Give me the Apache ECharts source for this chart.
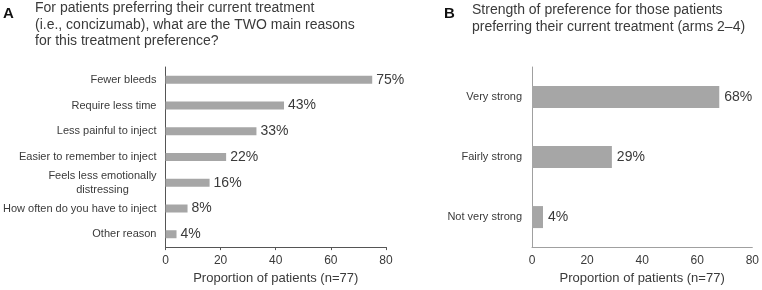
<!DOCTYPE html>
<html>
<head>
    <meta charset="utf-8">
    <title>Treatment preference</title>
    <script src="https://cdn.jsdelivr.net/npm/echarts@6/dist/echarts.min.js"></script>
    <style>
        html, body { margin: 0; padding: 0; background: #fff; }
        #chart1 { width: 762px; height: 290px; }
    </style>
</head>
<body>
<div id="chart1"></div>
<script type="text/javascript">
    // panel A: reasons
    var reasons = ['Fewer bleeds', 'Require less time', 'Less painful to inject',
        'Easier to remember to inject', 'Feels less emotionally\ndistressing',
        'How often do you have to inject', 'Other reason'];
    var reasonPct = [75, 43, 33, 22, 16, 8, 4];

    // panel B: strength
    var strengths = ['Very strong', 'Fairly strong', 'Not very strong'];
    var strengthPct = [68, 29, 4];

    var xTicks = [0, 20, 40, 60, 80];

    var font = 'Arial, "Liberation Sans", sans-serif';
    var txt = '#3a3a3a';
    var barColor = '#a6a6a6';

    var myChart1 = echarts.init(document.getElementById('chart1'));

    function xAxisOpt(idx, lineColor, showTicks) {
        return {
            gridIndex: idx,
            type: 'value',
            min: xTicks[0],
            max: xTicks[xTicks.length - 1],
            interval: 20,
            name: 'Proportion of patients (n=77)',
            nameLocation: 'middle',
            nameGap: 23,
            nameTextStyle: { fontFamily: font, fontSize: 13, color: txt },
            axisLine: { show: true, lineStyle: { color: lineColor, width: 1 } },
            axisTick: { show: showTicks, length: 3, lineStyle: { color: lineColor } },
            axisLabel: { fontFamily: font, fontSize: 12, color: txt, margin: 8 },
            splitLine: { show: false }
        };
    }

    myChart1.setOption({
        animation: false,
        title: [
            { text: 'A', left: 3, top: 6, padding: 0, textStyle: { fontFamily: font, fontSize: 15, fontWeight: 'bold', color: '#111' } },
            {
                text: 'For patients preferring their current treatment\n(i.e., concizumab), what are the TWO main reasons\nfor this treatment preference?',
                left: 35, top: 0, padding: 0,
                textStyle: { fontFamily: font, fontSize: 14, fontWeight: 'normal', color: txt, lineHeight: 16.5 }
            },
            { text: 'B', left: 444, top: 6, padding: 0, textStyle: { fontFamily: font, fontSize: 15, fontWeight: 'bold', color: '#111' } },
            {
                text: 'Strength of preference for those patients\npreferring their current treatment (arms 2\u20134)',
                left: 472, top: 1.5, padding: 0,
                textStyle: { fontFamily: font, fontSize: 14, fontWeight: 'normal', color: txt, lineHeight: 17 }
            }
        ],
        grid: [
            { left: 162, top: 67, width: 224, height: 185 },
            { left: 532, top: 67, width: 221, height: 186 }
        ],
        xAxis: [
            xAxisOpt(0, '#555', true),
            xAxisOpt(1, '#a0a0a0', false)
        ],
        yAxis: [
            {
                gridIndex: 0,
                type: 'category',
                inverse: true,
                data: reasons,
                axisLine: { show: true, lineStyle: { color: '#555' } },
                axisTick: { show: false },
                axisLabel: {
                    fontFamily: font, fontSize: 11, color: txt, margin: 9,
                    formatter: function (v) {
                        if (v.indexOf('\n') >= 0) {
                            return v.split('\n').map(function (s) { return '{m|' + s + '}'; }).join('\n');
                        }
                        return v;
                    },
                    rich: {
                        m: { fontFamily: font, fontSize: 11, color: txt, width: 108, align: 'center', lineHeight: 14 }
                    }
                }
            },
            {
                gridIndex: 1,
                type: 'category',
                inverse: true,
                data: strengths,
                axisLine: { show: true, lineStyle: { color: '#a0a0a0' } },
                axisTick: { show: false },
                axisLabel: { fontFamily: font, fontSize: 11, color: txt, margin: 10 }
            }
        ],
        series: [
            {
                name: 'Reasons',
                type: 'bar',
                xAxisIndex: 0,
                yAxisIndex: 0,
                data: reasonPct,
                barWidth: 8,
                itemStyle: { color: barColor },
                label: {
                    show: true, position: 'right', distance: 4,
                    formatter: '{c}%', fontFamily: font, fontSize: 14, color: txt
                }
            },
            {
                name: 'Strength',
                type: 'bar',
                xAxisIndex: 1,
                yAxisIndex: 1,
                data: strengthPct,
                barWidth: 22,
                itemStyle: { color: barColor },
                label: {
                    show: true, position: 'right', distance: 5,
                    formatter: '{c}%', fontFamily: font, fontSize: 14, color: txt
                }
            }
        ]
    });
</script>
</body>
</html>
